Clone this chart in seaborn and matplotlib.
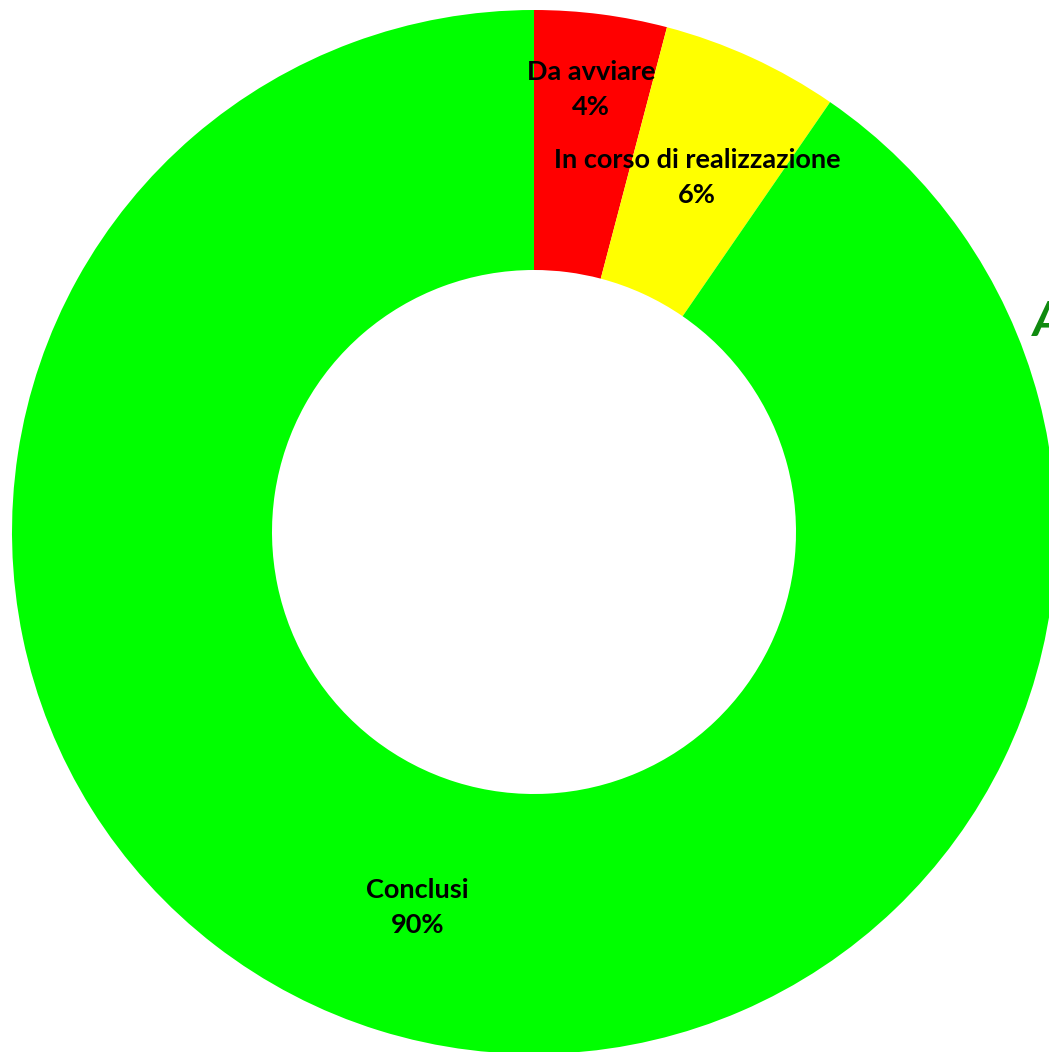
import numpy as np
import matplotlib.pyplot as plt
import seaborn as sns

sns.set_style("white")
plt.rcParams['font.family'] = ['Lato', 'DejaVu Sans']

# Dati
categorie = ['Da avviare', 'In corso di realizzazione', 'Conclusi']
percentuali = [4.1, 5.5, 90.4]
colori = ['#FF0000', '#FFFF00', '#00FF00']

W, H = 1049, 1052
fig = plt.figure(figsize=(W / 100, H / 100), dpi=100)
ax = fig.add_axes([0, 0, 1, 1])

cx, cy, r_out, r_in = 534, H - 532, 522, 262
ax.pie(percentuali, colors=colori, startangle=90, counterclock=False,
       center=(cx, cy), radius=r_out, frame=True,
       wedgeprops=dict(width=r_out - r_in, linewidth=0))

# Etichette al centro di ogni settore
tot = sum(percentuali)
cum = np.cumsum([0] + percentuali[:-1])
dist = [0.855, 0.748, 0.753]
for nome, p, c0, d in zip(categorie, percentuali, cum, dist):
    ang = np.deg2rad(90 - (c0 + p / 2) / tot * 360)
    x = cx + d * r_out * np.cos(ang)
    y = cy + d * r_out * np.sin(ang)
    ax.text(x, y, f"{nome}\n{p / tot * 100:.0f}%", ha='center', va='center',
            fontsize=19.5, fontweight='bold', color='black', linespacing=1.55)

# Titolo tagliato sul bordo destro
ax.text(1033, H - 336, "A", fontsize=34, fontweight='bold', fontstyle='italic',
        color='#0f8a0f', ha='left', va='baseline')

ax.set_xlim(0, W)
ax.set_ylim(0, H)
ax.set_aspect('equal')
ax.axis('off')

fig.savefig('out.png', dpi=100)
